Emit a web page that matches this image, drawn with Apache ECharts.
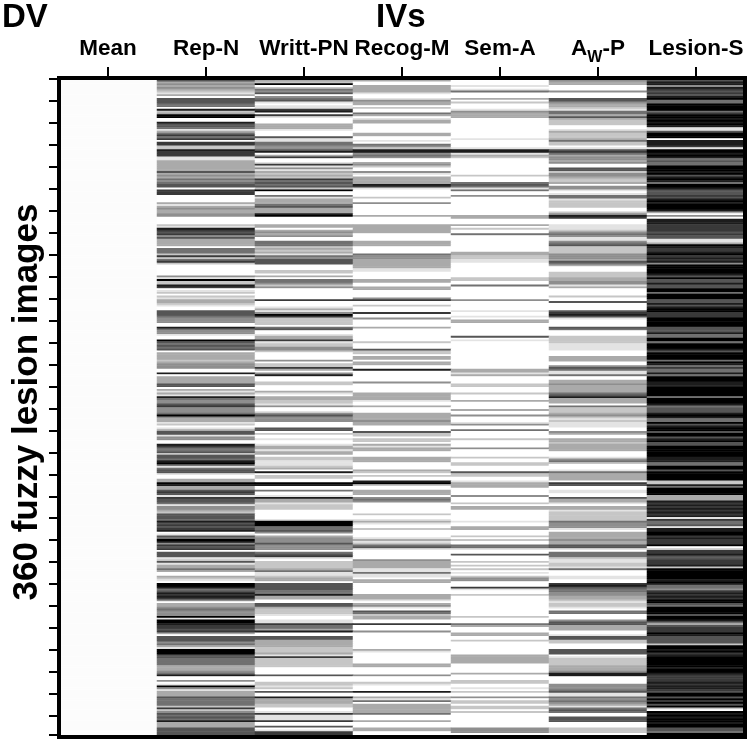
<!DOCTYPE html>
<html>
<head>
    <meta charset="utf-8">
    <title>360 fuzzy lesion images</title>
    <style type="text/css">
        html, body { margin: 0; padding: 0; background: #fff; }
        #main { width: 750px; height: 741px; }
    </style>
    <script src="https://cdn.jsdelivr.net/npm/echarts@6/dist/echarts.min.js"></script>
</head>
<body>
    <div id="main"></div>
    <script>
        var columns = ['Mean', 'Rep-N', 'Writt-PN', 'Recog-M', 'Sem-A', 'AW-P', 'Lesion-S'];

        // darkness of each row, 0 = white, 9 = black
        var meanCol = [
            .1,.1,.1,.1,.1,.1,.1,.1,.1,.1,.1,.1,.1,.1,.1,.1,.1,.1,.1,.1,
            .1,.1,.1,.1,.1,.1,.1,.1,.1,.1,.1,.1,.1,.1,.1,.1,.1,.1,.1,.1,
            .1,.1,.1,.1,.1,.1,.1,.1,.1,.1,.1,.1,.1,.1,.1,.1,.1,.1,.1,.1,
            .1,.1,.1,.1,.1,.1,.1,.1,.1,.1,.1,.1,.1,.1,.1,.1,.1,.1,.1,.1,
            .1,.1,.1,.1,.1,.1,.1,.1,.1,.1,.1,.1,.1,.1,.1,.1,.1,.1,.1,.1,
            .1,.1,.1,.1,.1,.1,.1,.1,.1,.1,.1,.1,.1,.1,.1,.1,.1,.1,.1,.1,
            .1,.1,.1,.1,.1,.1,.1,.1,.1,.1,.1,.1,.1,.1,.1,.1,.1,.1,.1,.1,
            .1,.1,.1,.1,.1,.1,.1,.1,.1,.1,.1,.1,.1,.1,.1,.1,.1,.1,.1,.1,
            .1,.1,.1,.1,.1,.1,.1,.1,.1,.1,.1,.1,.1,.1,.1,.1,.1,.1,.1,.1,
            .1,.1,.1,.1,.1,.1,.1,.1,.1,.1,.1,.1,.1,.1,.1,.1,.1,.1,.1,.1,
            .1,.1,.1,.1,.1,.1,.1,.1,.1,.1,.1,.1,.1,.1,.1,.1,.1,.1,.1,.1,
            .1,.1,.1,.1,.1,.1,.1,.1,.1,.1,.1,.1,.1,.1,.1,.1,.1,.1,.1,.1,
            .1,.1,.1,.1,.1,.1,.1,.1,.1,.1,.1,.1,.1,.1,.1,.1,.1,.1,.1,.1,
            .1,.1,.1,.1,.1,.1,.1,.1,.1,.1,.1,.1,.1,.1,.1,.1,.1,.1,.1,.1,
            .1,.1,.1,.1,.1,.1,.1,.1,.1,.1,.1,.1,.1,.1,.1,.1,.1,.1,.1,.1,
            .1,.1,.1,.1,.1,.1,.1,.1,.1,.1,.1,.1,.1,.1,.1,.1,.1,.1,.1,.1,
            .1,.1,.1,.1,.1,.1,.1,.1,.1,.1,.1,.1,.1,.1,.1,.1,.1,.1,.1,.1,
            .1,.1,.1,.1,.1,.1,.1,.1,.1,.1,.1,.1,.1,.1,.1,.1,.1,.1,.1,.1
        ];
        var repN = [
            6,6,3,4,3,4,3,2,1,3,0,6,6,6,5,5,0,8,2,3,
            9,9,0,0,8,6,6,5,1,3,5,7,5,7,0,7,7,2,2,8,
            7,7,7,1,1,3,3,3,3,3,3,6,3,4,3,5,4,5,6,6,
            0,7,7,7,0,0,0,0,3,1,3,4,3,3,4,4,0,0,0,0,
            2,1,8,7,6,7,4,6,3,3,3,3,0,5,5,5,2,7,2,5,
            7,2,0,0,0,0,0,0,4,1,9,2,2,8,7,0,1,2,0,2,
            1,3,3,2,1,0,0,6,6,6,5,4,4,4,0,0,8,5,4,4,
            1,0,0,9,6,5,6,5,6,0,3,3,3,3,2,3,4,4,4,0,
            0,8,0,3,3,3,3,6,6,0,3,1,3,1,8,5,4,4,6,7,
            4,4,4,5,9,4,3,3,1,2,0,1,3,6,6,1,4,4,0,0,
            8,7,5,5,6,2,6,6,5,8,9,6,1,5,6,6,1,0,0,3,
            3,9,8,3,3,6,7,6,1,7,6,6,5,1,4,4,3,2,6,6,
            6,5,8,6,7,6,7,8,0,1,6,5,9,8,4,7,6,7,0,6,
            6,6,1,2,6,1,3,3,5,3,0,0,3,2,1,0,9,9,8,5,
            6,8,7,8,7,4,0,3,3,4,5,4,4,4,9,1,9,9,8,7,
            7,6,7,3,0,6,6,6,4,5,3,1,9,9,9,6,6,5,5,5,
            5,3,3,3,4,5,8,0,0,4,0,1,9,4,1,3,3,3,6,5,
            5,5,5,2,7,2,4,6,5,6,5,8,3,3,3,6,6,6,6,6
        ];
        var writtPN = [
            3,3,2,9,0,2,5,4,6,0,4,5,6,1,0,1,1,7,8,0,
            7,1,0,0,0,3,3,3,1,0,0,0,6,1,1,5,5,4,4,6,
            8,0,3,7,0,0,1,7,1,4,1,3,2,3,2,7,5,6,5,6,
            2,9,0,0,5,1,3,3,3,5,6,3,3,3,8,9,0,0,0,0,
            3,3,0,3,4,3,4,0,0,5,5,5,2,3,2,3,1,5,4,6,
            6,6,0,0,0,2,2,0,3,0,5,5,4,2,4,0,0,0,0,0,
            0,7,0,0,0,1,3,1,4,9,7,2,2,2,2,0,5,6,0,0,
            1,3,3,7,1,2,2,4,4,2,0,0,0,0,4,0,2,2,7,3,
            0,4,8,0,0,0,2,2,0,0,0,3,1,0,3,3,2,2,1,4,
            0,0,1,4,6,4,4,4,0,0,0,6,6,0,2,0,0,1,0,0,
            1,3,3,1,3,3,0,2,2,1,1,1,2,3,0,8,0,2,2,0,
            0,9,8,0,0,5,0,0,1,8,3,3,1,2,2,2,0,0,0,0,
            0,1,9,9,9,5,5,6,4,0,3,4,4,4,6,4,4,4,0,5,
            6,7,1,0,2,2,2,2,3,5,1,1,2,3,3,0,6,6,6,6,
            5,5,8,3,3,0,0,6,6,3,2,2,2,1,0,0,1,1,7,5,
            5,3,8,0,0,6,6,3,3,3,3,2,2,2,3,1,7,2,2,2,
            2,2,0,0,0,0,6,0,0,0,2,2,1,2,0,6,0,0,8,3,
            3,3,2,2,0,0,1,7,1,1,1,7,0,0,6,0,1,7,7,0
        ];
        var recogM = [
            3,3,0,0,3,3,3,3,1,0,0,1,4,3,3,0,2,0,0,5,
            3,0,1,3,3,0,0,0,0,0,3,3,0,0,1,0,5,4,2,8,
            8,4,5,4,0,0,3,4,2,0,0,4,1,0,3,3,3,3,8,7,
            1,0,0,0,0,2,0,0,4,0,0,0,0,0,0,3,0,0,0,0,
            3,3,3,3,3,0,0,0,0,3,3,3,0,0,0,0,5,4,4,3,
            3,3,3,3,1,1,0,0,0,0,3,3,0,0,3,3,0,0,0,0,
            4,7,0,0,2,0,0,0,7,0,0,4,0,0,0,0,3,0,0,0,
            0,0,0,0,2,0,0,0,6,2,2,0,3,3,0,3,3,0,0,8,
            0,0,0,0,0,0,4,0,0,0,0,0,3,3,3,3,1,0,0,3,
            0,0,0,3,3,3,3,4,3,3,0,0,0,6,2,2,0,2,2,0,
            3,1,3,3,0,0,0,3,3,3,0,0,0,0,3,2,0,2,0,0,
            8,9,2,0,0,3,3,3,0,4,5,4,0,0,0,0,0,0,2,0,
            0,1,3,1,0,0,2,0,0,0,0,1,3,1,2,5,6,1,0,0,
            0,0,0,4,3,3,3,3,1,1,5,1,1,0,3,3,0,0,0,0,
            0,0,3,3,3,1,0,3,4,1,0,6,5,2,3,3,0,0,7,0,
            0,0,4,0,0,0,0,0,0,0,0,0,3,1,0,0,0,0,0,0,
            3,3,0,0,0,0,4,0,0,0,2,1,0,0,0,8,0,0,3,1,
            5,0,3,3,3,3,3,5,0,0,0,3,0,0,0,3,3,0,0,0
        ];
        var semA = [
            0,0,0,0,1,0,1,5,0,0,0,3,0,2,0,0,0,1,4,3,
            3,3,0,0,0,0,0,0,0,0,0,0,0,1,0,0,0,0,1,8,
            8,1,3,2,0,0,0,0,0,0,0,0,0,2,0,0,0,5,6,5,
            1,5,0,0,4,0,0,0,0,0,0,0,0,0,0,3,3,0,0,0,
            3,0,2,0,0,5,0,0,0,0,0,0,0,0,0,3,3,2,2,1,
            1,0,0,0,0,0,0,0,0,2,2,0,0,5,0,0,0,0,0,0,
            0,4,0,0,0,0,0,1,0,0,1,0,3,3,0,0,0,0,0,0,
            0,6,0,1,0,0,0,0,0,0,0,0,0,0,0,0,0,0,0,3,
            3,1,3,0,0,0,0,2,2,0,0,0,2,0,0,0,3,0,0,0,
            0,3,0,0,4,0,0,0,1,4,0,0,5,0,0,0,0,2,0,0,
            0,0,4,0,0,0,0,2,0,0,2,2,0,0,0,6,2,2,0,0,
            1,3,3,3,0,0,0,0,4,0,0,0,2,0,3,3,0,0,0,0,
            0,0,1,0,0,3,3,0,0,0,2,0,2,0,0,5,5,1,0,0,
            6,0,0,0,2,0,2,0,2,0,1,0,2,4,4,0,0,0,7,1,
            0,0,2,0,0,0,0,0,0,0,0,0,0,0,2,0,0,0,5,3,
            0,0,0,3,3,0,0,2,0,0,0,0,0,0,0,3,3,3,3,3,
            0,0,0,0,0,3,0,0,0,2,2,0,0,1,0,2,0,0,4,0,
            2,2,0,2,2,0,2,0,0,0,0,0,0,0,0,4,4,4,0,0
        ];
        var awP = [
            4,4,3,3,0,0,0,4,0,0,0,6,6,4,3,3,2,1,5,5,
            3,6,3,2,2,2,0,0,1,3,2,2,2,3,5,2,2,0,1,6,
            7,5,3,4,4,3,4,0,0,6,6,2,4,4,3,2,2,3,0,4,
            4,1,0,1,5,5,1,2,2,2,2,0,0,2,4,8,7,0,0,0,
            1,1,1,2,4,5,4,1,1,4,5,6,2,2,2,2,4,4,4,3,
            6,5,3,0,0,0,2,2,2,3,3,4,4,1,3,0,0,0,0,2,
            0,0,6,0,0,0,0,6,7,8,6,1,0,0,0,0,6,5,0,0,
            0,2,2,2,2,1,1,1,1,0,0,0,3,3,3,0,0,4,6,5,
            1,1,5,0,0,3,3,4,3,3,3,3,5,6,8,3,3,3,0,5,
            2,2,2,3,4,2,1,2,1,1,1,0,0,4,3,0,0,3,3,2,
            3,3,3,3,0,0,0,1,4,5,2,0,0,0,1,5,3,3,3,3,
            0,7,6,0,0,1,1,0,0,6,3,3,1,0,3,3,1,2,2,2,
            2,2,5,4,4,4,1,0,3,3,3,3,4,3,3,6,6,1,0,5,
            5,5,2,1,1,2,2,1,5,0,0,0,1,1,0,0,7,8,6,5,
            5,4,4,3,3,2,1,2,2,1,0,5,5,0,0,0,4,6,6,3,
            3,3,0,0,1,6,6,2,2,0,0,0,6,6,6,0,1,2,2,2,
            2,3,3,3,4,8,8,0,0,0,0,4,4,4,5,6,1,1,5,4,
            5,4,3,1,5,6,5,0,0,6,6,6,0,0,0,2,2,2,0,0
        ];
        var lesionS = [
            6,6,8,8,4,8,7,6,7,6,8,9,5,5,9,9,9,9,5,7,
            9,9,8,9,8,9,8,1,1,6,9,9,9,0,8,8,8,7,1,9,
            9,8,9,8,5,6,5,5,9,9,9,8,9,6,8,9,8,5,9,9,
            8,6,6,6,7,6,8,9,8,9,9,9,8,3,0,4,0,8,8,8,
            7,7,7,7,6,7,6,6,1,1,3,9,8,7,7,8,9,7,8,7,
            8,4,9,9,9,9,9,8,6,9,6,6,8,6,6,9,9,5,9,9,
            9,6,6,8,6,8,9,9,7,7,7,9,9,9,9,9,6,6,6,8,
            5,5,9,9,5,9,9,9,8,6,9,9,9,9,5,9,8,5,7,5,
            5,8,5,9,9,9,8,8,8,9,9,9,9,9,5,9,9,9,8,5,
            6,6,6,8,9,8,5,5,9,6,8,9,9,6,9,9,6,8,9,6,
            6,9,9,9,9,9,9,8,8,8,5,5,9,9,6,9,9,9,9,9,
            2,2,8,5,9,9,9,9,3,3,3,8,7,8,7,8,7,8,7,8,
            1,7,5,5,6,1,8,8,9,9,7,8,7,7,7,9,0,2,7,7,
            8,6,6,7,7,7,8,2,9,9,9,9,9,9,8,9,8,5,5,4,
            7,8,7,8,7,9,9,6,5,9,9,9,9,6,9,9,8,5,3,6,
            7,7,7,9,8,6,6,6,6,2,9,9,8,9,7,8,9,9,9,9,
            9,9,8,9,9,8,7,7,7,7,8,7,8,8,7,6,9,9,6,9,
            7,9,6,9,2,0,9,8,9,8,9,9,8,9,9,6,6,5,9,9
        ];

        var allCols = [meanCol, repN, writtPN, recogM, semA, awP, lesionS];
        var rows = [];
        var cells = [];
        for (var r = 0; r < meanCol.length; r++) {
            rows.push(r + 1);
            for (var c = 0; c < allCols.length; c++) {
                cells.push([c, r, allCols[c][r]]);
            }
        }

        var font = '"Liberation Sans", Arial, sans-serif';
        var chart = echarts.init(document.getElementById('main'), null, { renderer: 'canvas' });
        chart.setOption({
            animation: false,
            backgroundColor: '#fff',
            title: [
                { text: 'DV', left: 2, top: 1, padding: 0, textStyle: { fontFamily: font, fontSize: 33, fontWeight: 'bold', color: '#000' } },
                { text: 'IVs', left: 376, top: 1, padding: 0, textStyle: { fontFamily: font, fontSize: 33, fontWeight: 'bold', color: '#000' } }
            ],
            graphic: [{
                type: 'text',
                x: 45,
                y: 402,
                rotation: Math.PI / 2,
                style: {
                    text: '360 fuzzy lesion images',
                    fontFamily: font,
                    fontSize: 35,
                    fontWeight: 'bold',
                    fill: '#000',
                    textAlign: 'center',
                    textVerticalAlign: 'bottom'
                }
            }],
            grid: { left: 59, top: 78, width: 686, height: 659 },
            visualMap: { show: false, type: 'continuous', min: 0, max: 9, seriesIndex: 0, inRange: { color: ['#ffffff', '#000000'] } },
            xAxis: [{
                type: 'category',
                position: 'top',
                data: columns,
                z: 5,
                axisLine: { lineStyle: { color: '#000', width: 4, cap: 'square' } },
                axisTick: { show: true, alignWithLabel: true, length: 11, lineStyle: { color: '#000', width: 2 } },
                axisLabel: {
                    interval: 0,
                    margin: 29,
                    verticalAlign: 'middle',
                    fontFamily: font,
                    fontSize: 22.5,
                    fontWeight: 'bold',
                    color: '#000',
                    formatter: function (v) {
                        return v === 'AW-P' ? '{a|A}{w|W}{a|-P}' : v;
                    },
                    rich: {
                        a: { fontFamily: font, fontSize: 22.5, fontWeight: 'bold', color: '#000' },
                        w: { fontFamily: font, fontSize: 16, fontWeight: 'bold', color: '#000', padding: [17, 0, 0, 0] }
                    }
                }
            }, {
                type: 'category',
                position: 'bottom',
                data: columns,
                z: 5,
                axisLine: { onZero: false, lineStyle: { color: '#000', width: 4, cap: 'square' } },
                axisTick: { show: false },
                axisLabel: { show: false }
            }],
            yAxis: [{
                type: 'category',
                position: 'left',
                inverse: true,
                data: rows,
                z: 5,
                axisLine: { lineStyle: { color: '#000', width: 4, cap: 'square' } },
                axisTick: {
                    show: true,
                    alignWithLabel: true,
                    length: 10,
                    lineStyle: { color: '#000', width: 2 },
                    interval: function (i) {
                        return i % 12 === 0 || i === 358;
                    }
                },
                axisLabel: { show: false }
            }, {
                type: 'category',
                position: 'right',
                inverse: true,
                data: rows,
                z: 5,
                axisLine: { onZero: false, lineStyle: { color: '#000', width: 4, cap: 'square' } },
                axisTick: { show: false },
                axisLabel: { show: false }
            }],
            series: [{
                type: 'heatmap',
                xAxisIndex: 0,
                yAxisIndex: 0,
                data: cells,
                progressive: 0,
                silent: true,
                itemStyle: { borderWidth: 0 }
            }]
        });
    </script>
</body>
</html>
